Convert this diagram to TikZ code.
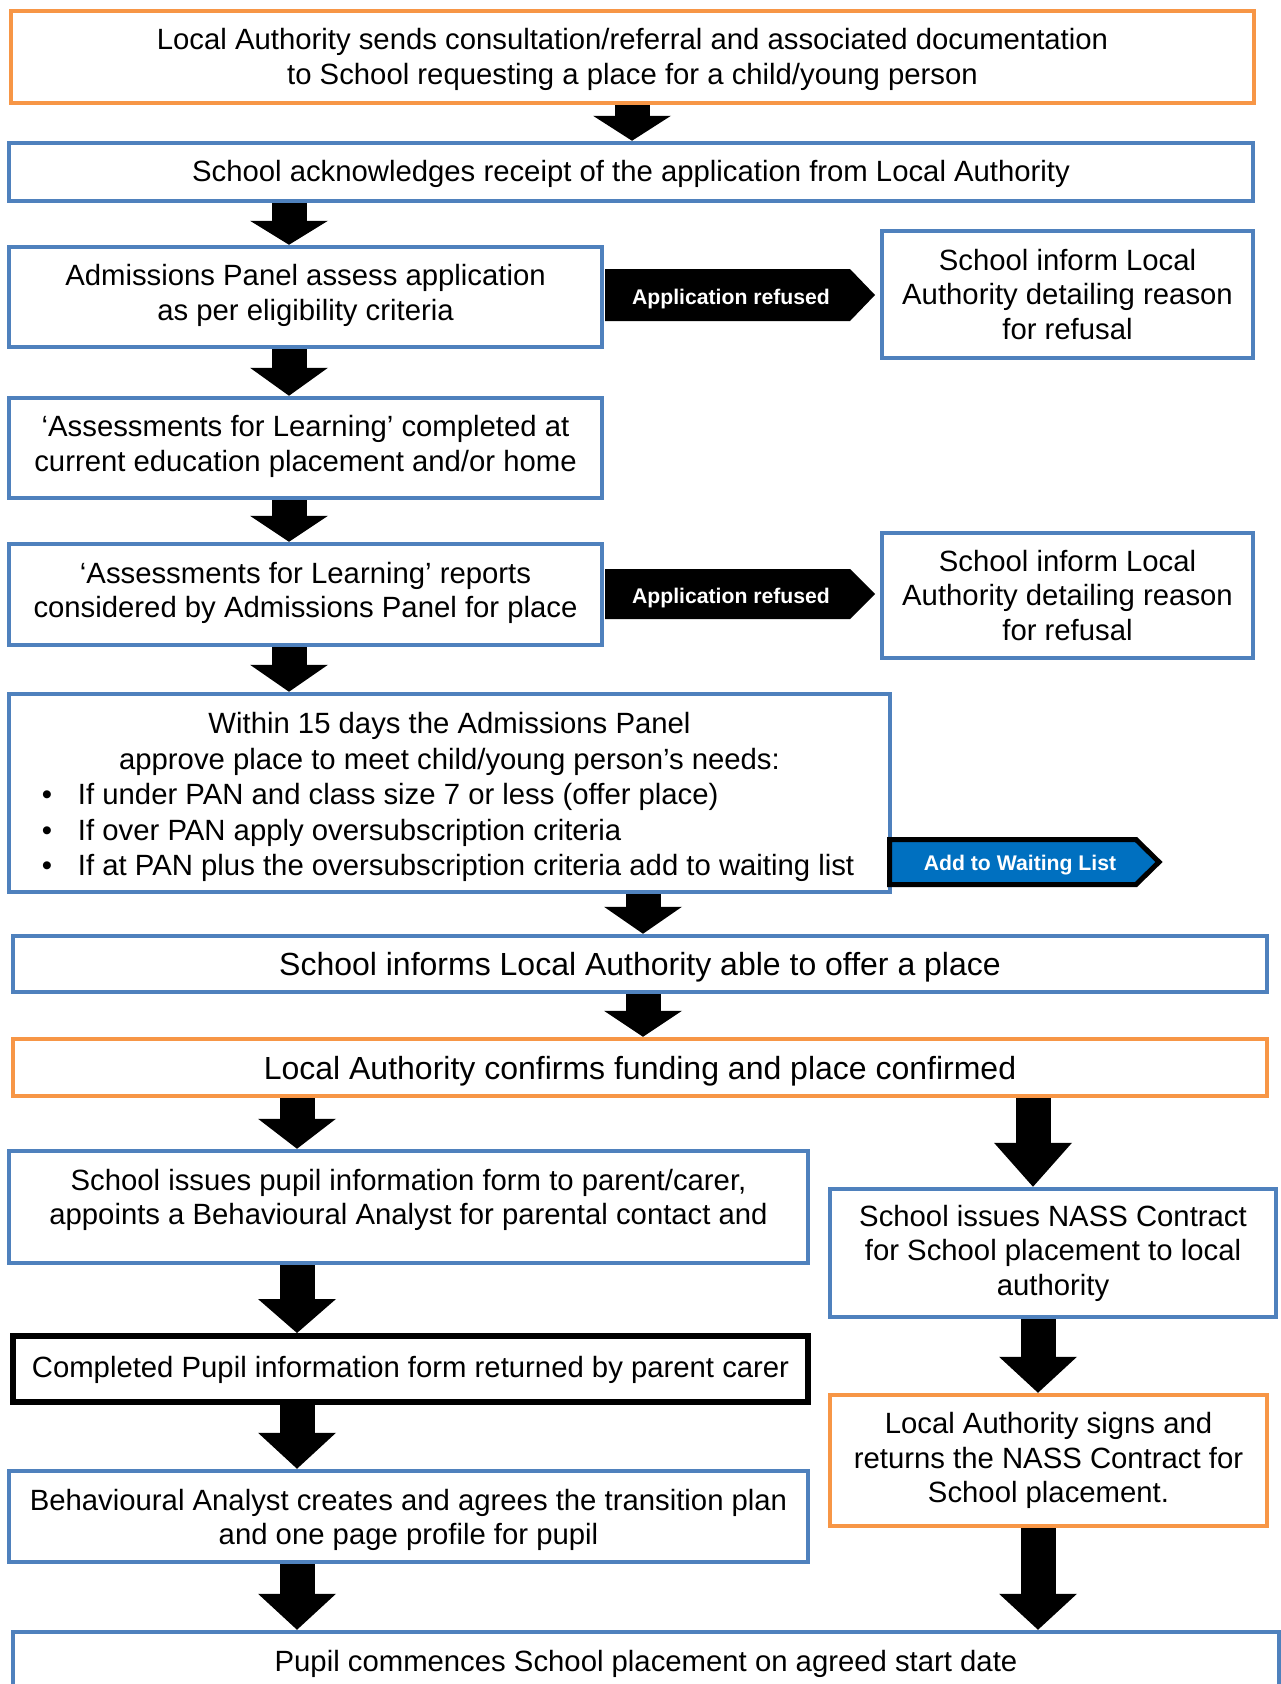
\documentclass[tikz,border=0pt]{standalone}
\usepackage{fontspec}
\setmainfont{Liberation Sans}
\usetikzlibrary{arrows.meta}
\pgfdeclarelayer{bg}
\pgfsetlayers{bg,main}
\definecolor{orangeB}{HTML}{F79646}
\definecolor{blueB}{HTML}{4F81BD}
\definecolor{waitblue}{HTML}{0070C0}
\newcommand{\mlines}[2]{\raisebox{-#1}[\height][\depth]{\begin{tabular}{@{}c@{}}#2\end{tabular}}}
\tikzset{
  box/.style={draw, fill=white, line width=4.5pt, align=center, inner sep=0pt,
    font=\fontsize{29.3}{34.5}\selectfont},
  bluebox/.style={box, draw=blueB},
  orangebox/.style={box, draw=orangeB},
  blackbox/.style={box, draw=black, line width=6pt},
  bigtxt/.style={font=\fontsize{32}{38}\selectfont},
  down/.style={execute at begin node={\rule{0pt}{#1}}},
  txt/.style={align=center, inner sep=0pt, font=\fontsize{29.3}{34.5}\selectfont},
  blk/.style={line width=35pt, draw=black, -{Triangle[width=78pt,length=#1,line width=0pt]}},
  blk/.default=26pt,
  lbl/.style={text=white, inner sep=0pt, font=\fontsize{21.2}{25}\selectfont\bfseries},
}
\begin{document}
\begin{tikzpicture}[x=1pt,y=-1pt]
\useasboundingbox (0,0) rectangle (1281,1684);
\clip (0,0) rectangle (1281,1684);
% column coordinates
\coordinate (xa) at (632,0);
\coordinate (xb) at (289,0);
\coordinate (xc) at (643,0);
\coordinate (xd) at (297,0);
\coordinate (xe) at (1033,0);
\coordinate (xf) at (1038,0);
% boxes
\node[orangebox, minimum width=1243pt, minimum height=92pt] (b1) at (632.5,57)
  {\mlines{3pt}{Local Authority sends consultation/referral and associated documentation\\to School requesting a place for a child/young person}};
\node[bluebox, down=26pt, minimum width=1244pt, minimum height=58pt] (b2) at (631,172)
  {School acknowledges receipt of the application from Local Authority};
\node[bluebox, minimum width=593pt, minimum height=100pt] (b3) at (305.5,297)
  {\mlines{-1pt}{Admissions Panel assess application\\as per eligibility criteria}};
\node[bluebox, minimum width=371pt, minimum height=127pt] (b3r) at (1067.5,294.5)
  {School inform Local\\Authority detailing reason\\for refusal};
\node[bluebox, minimum width=593pt, minimum height=100pt] (b4) at (305.5,448)
  {\mlines{-1pt}{‘Assessments for Learning’ completed at\\current education placement and/or home}};
\node[bluebox, minimum width=593pt, minimum height=101pt] (b5) at (305.5,594.5)
  {\mlines{-1pt}{‘Assessments for Learning’ reports\\considered by Admissions Panel for place}};
\node[bluebox, minimum width=371pt, minimum height=125pt] (b5r) at (1067.5,595.5)
  {School inform Local\\Authority detailing reason\\for refusal};
\node[bluebox, minimum width=881pt, minimum height=198pt] (b6) at (449.5,793)
  {\fontsize{29.3}{35.5}\selectfont\raisebox{-4pt}[\height][\depth]{\parbox{870pt}{\centering Within 15 days the Admissions Panel\\approve place to meet child/young person’s needs:\par
   \raggedright
   \makebox[63.5pt][l]{\hspace{27.5pt}\textbullet}If under PAN and class size 7 or less (offer place)\\
   \makebox[63.5pt][l]{\hspace{27.5pt}\textbullet}If over PAN apply oversubscription criteria\\
   \makebox[63.5pt][l]{\hspace{27.5pt}\textbullet}If at PAN plus the oversubscription criteria add to waiting list}}};
\node[bluebox, bigtxt, down=30pt, minimum width=1254pt, minimum height=56pt] (b7) at (640,964)
  {School informs Local Authority able to offer a place};
\node[orangebox, bigtxt, down=30pt, minimum width=1254pt, minimum height=57pt] (b8) at (640,1067.5)
  {Local Authority confirms funding and place confirmed};
\node[bluebox, minimum width=799pt, minimum height=112pt] (b9) at (408.5,1207) {};
\node[txt] (b9t) at ([yshift=7pt]b9.center)
  {School issues pupil information form to parent/carer,\\appoints a Behavioural Analyst for parental contact and};
\node[bluebox, minimum width=446pt, minimum height=128pt] (b10) at (1053,1253)
  {School issues NASS Contract\\for School placement to local\\authority};
\node[blackbox, down=23pt, minimum width=795pt, minimum height=66pt] (b11) at (410.5,1369)
  {Completed Pupil information form returned by parent carer};
\node[orangebox, minimum width=437pt, minimum height=131pt] (b12) at (1048.5,1460.5)
  {Local Authority signs and\\returns the NASS Contract for\\School placement.};
\node[bluebox, minimum width=799pt, minimum height=91pt] (b13) at (408.5,1516.5)
  {\mlines{4pt}{Behavioural Analyst creates and agrees the transition plan\\and one page profile for pupil}};
\node[bluebox, down=25pt, minimum width=1266pt, minimum height=60pt] (b14) at (646,1662)
  {Pupil commences School placement on agreed start date};
% side arrows
\fill[black] (605,269) -- (850,269) -- (875,295) -- (850,321) -- (605,321) -- cycle;
\node[lbl] (r1) at (731,299) {Application refused};
\fill[black] (605,569) -- (850,569) -- (875,594) -- (850,619) -- (605,619) -- cycle;
\node[lbl] (r2) at (731,598) {Application refused};
\filldraw[fill=waitblue, draw=black, line width=5pt, line join=miter]
  (889.5,839.5) -- (1136,839.5) -- (1159,862) -- (1136,884.5) -- (889.5,884.5) -- cycle;
\node[lbl] (w1) at (1020,865) {Add to Waiting List};
% down arrows
\begin{pgfonlayer}{bg}
\fill[white] (0,0) rectangle (1281,1684);
\draw[blk=25pt] (b1.south -| xa) -- (b2.north -| xa);
\draw[blk=24pt] (b2.south -| xb) -- (b3.north -| xb);
\draw[blk=28pt] (b3.south -| xb) -- (b4.north -| xb);
\draw[blk=26pt] (b4.south -| xb) -- (b5.north -| xb);
\draw[blk=27pt] (b5.south -| xb) -- (b6.north -| xb);
\draw[blk=27pt] (b6.south -| xc) -- (b7.north -| xc);
\draw[blk=26pt] (b7.south -| xc) -- (b8.north -| xc);
\draw[blk=30pt] (b8.south -| xd) -- (b9.north -| xd);
\draw[blk=44pt] (b8.south -| xe) -- (b10.north -| xe);
\draw[blk=34pt] (b9.south -| xd) -- (b11.north -| xd);
\draw[blk=36pt] (b10.south -| xf) -- (b12.north -| xf);
\draw[blk=36pt] (b11.south -| xd) -- (b13.north -| xd);
\draw[blk=36pt] (b13.south -| xd) -- (b14.north -| xd);
\draw[blk=36pt] (b12.south -| xf) -- (b14.north -| xf);
\end{pgfonlayer}
\end{tikzpicture}
\end{document}
